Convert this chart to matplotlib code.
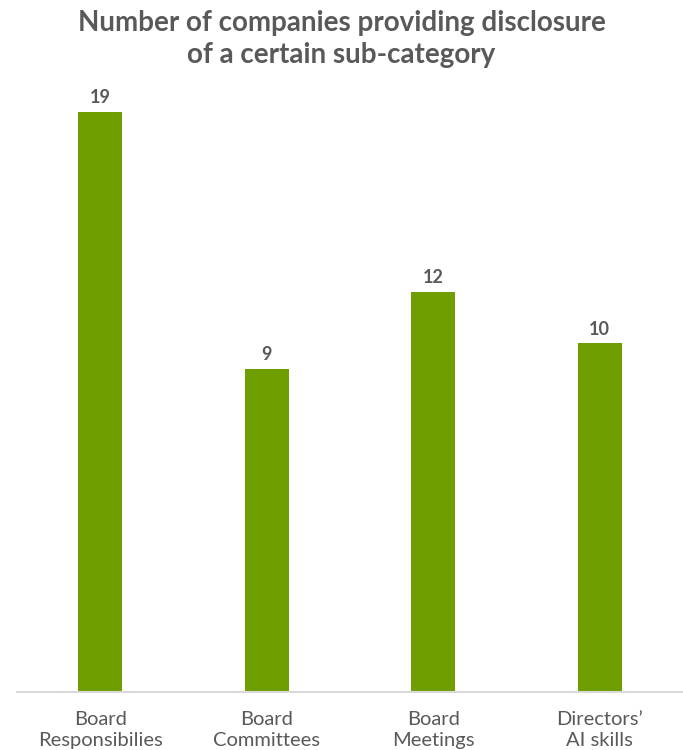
import matplotlib.pyplot as plt

plt.rcParams['font.family'] = ['Lato', 'DejaVu Sans']

categories = ['Board\nResponsibilies', 'Board\nCommittees', 'Board\nMeetings', 'Directors\u2019\nAI skills']
counts = [19, 9, 12, 10]

# the original value axis does not start at zero
BASE = -3.57
GREEN = '#6f9e00'
GREY = '#595959'

fig = plt.figure(figsize=(6.83, 7.5), dpi=100)
ax = fig.add_axes([17 / 683, 58 / 750, 666 / 683, 580 / 750])

x = range(len(categories))
ax.bar(x, [c - BASE for c in counts], bottom=BASE, width=0.265, color=GREEN)
for xi, c in zip(x, counts):
    ax.text(xi, c + 0.22, str(c), ha='center', va='bottom', fontsize=13,
            fontweight='bold', color=GREY, clip_on=False)

ax.set_xlim(-0.5, 3.5)
ax.set_ylim(BASE, 19)
ax.set_xticks(list(x))
ax.set_xticklabels(categories, fontsize=14.5, color=GREY, linespacing=1.25)
ax.tick_params(axis='x', length=0, pad=14)
ax.set_yticks([])
for side in ['left', 'right', 'top']:
    ax.spines[side].set_visible(False)
ax.spines['bottom'].set_color('#d9d9d9')
ax.spines['bottom'].set_linewidth(1.5)

fig.text(0.5, 1 - 39 / 750, 'Number of companies providing disclosure\nof a certain sub-category',
         ha='center', va='center', fontsize=20, fontweight='bold', color=GREY, linespacing=1.32)

fig.savefig('out.png', dpi=100)
